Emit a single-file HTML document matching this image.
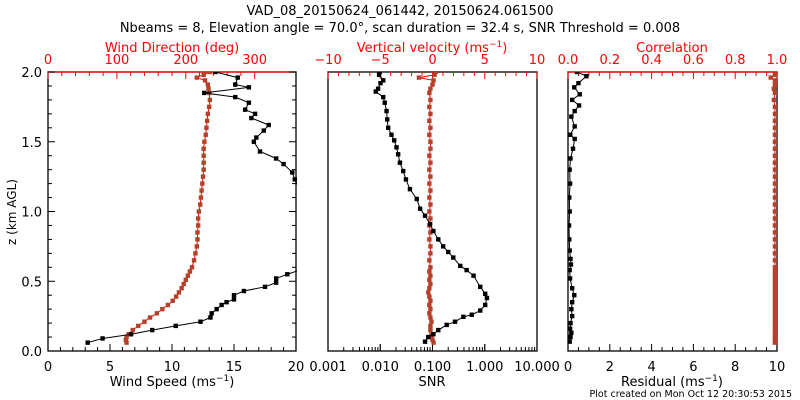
<!DOCTYPE html>
<html><head><meta charset="utf-8">
<style>
html,body{margin:0;padding:0;background:#fff;width:800px;height:400px;overflow:hidden}
svg{display:block;font-family:"DejaVu Sans","Liberation Sans",sans-serif}
</style></head>
<body>
<svg id="chart" width="800" height="400" viewBox="0 0 800 400">
<text x="400" y="15" font-size="13" text-anchor="middle">VAD_08_20150624_061442, 20150624.061500</text>
<text x="400" y="32" font-size="13" text-anchor="middle">Nbeams = 8, Elevation angle = 70.0°, scan duration = 32.4 s, SNR Threshold = 0.008</text>
<text transform="translate(16,212) rotate(-90)" font-size="12" text-anchor="middle">z (km AGL)</text>
<text x="792" y="397" font-size="9.5" text-anchor="end">Plot created on Mon Oct 12 20:30:53 2015</text>
<g id="g"></g>
</svg>
<script>
// ---- data ----
const speedZ = [0.06,0.09,0.12,0.15,0.18,0.21,0.24,0.27,0.30,0.33,0.35,0.37,0.40,0.43,0.46,0.49,0.52,0.55,0.58,1.16,1.23,1.28,1.34,1.38,1.43,1.50,1.53,1.58,1.62,1.67,1.70,1.73,1.78,1.82,1.85,1.89,1.91,1.96,2.0];
const speedVals = [3.2,4.4,6.7,8.4,10.3,12.3,13.1,13.2,13.6,14.0,14.4,15.0,15.0,15.8,17.5,18.4,18.4,19.3,20.3,20.3,19.9,19.7,19.0,18.4,17.1,16.6,16.8,17.4,17.8,16.4,16.7,15.9,16.2,15.1,12.6,16.2,15.1,15.3,13.5];
const dirZ = [0.06,0.08,0.10,0.12,0.15,0.18,0.21,0.24,0.27,0.30,0.33,0.36,0.39,0.42,0.45,0.48,0.51,0.54,0.57,0.60,0.65,0.70,0.75,0.80,0.85,0.90,0.95,1.00,1.05,1.10,1.15,1.20,1.25,1.30,1.35,1.40,1.45,1.50,1.55,1.60,1.65,1.70,1.75,1.80,1.85,1.88,1.91,1.94,1.96,1.98,2.0];
const dirVals = [114,113,114,117,123,131,140,148,158,166,174,181,186,190,194,197,200,203,206,209,212,214,216,217,217,218,218,219,221,222,223,224,225,226,226,226,226,227,229,230,231,232,234,235,234,233,232,228,216,226,235];
const snrZ = [0.067,0.10,0.12,0.15,0.187,0.21,0.245,0.26,0.29,0.33,0.38,0.41,0.46,0.54,0.58,0.61,0.67,0.71,0.75,0.80,0.86,0.91,0.97,1.02,1.09,1.16,1.23,1.29,1.35,1.41,1.46,1.51,1.55,1.60,1.66,1.72,1.78,1.82,1.86,1.88,1.92,1.94,1.98,2.0];
const snrVals = [0.072,0.083,0.104,0.129,0.187,0.27,0.39,0.565,0.82,1.02,1.10,1.02,0.82,0.61,0.45,0.34,0.25,0.20,0.16,0.129,0.104,0.090,0.072,0.058,0.050,0.037,0.031,0.0275,0.0238,0.022,0.0205,0.0185,0.0164,0.0142,0.0136,0.0132,0.0122,0.0114,0.0082,0.0091,0.0101,0.0114,0.0095,0.0098];
const wVals = [0.1,0.0,-0.1,-0.1,-0.2,-0.2,-0.1,-0.2,-0.3,-0.2,-0.3,-0.2,-0.3,-0.4,-0.3,-0.2,-0.3,-0.2,-0.3,-0.2,-0.3,-0.2,-0.2,-0.3,-0.2,-0.3,-0.2,-0.3,-0.2,-0.3,-0.2,-0.3,-0.2,-0.3,-0.2,-0.3,-0.2,-0.2,-0.3,-0.2,-0.3,-0.2,-0.3,-0.2,-0.3,-0.2,0.0,0.1,-1.3,0.2,0.3];
const resZ = [0.067,0.10,0.13,0.16,0.20,0.25,0.30,0.35,0.40,0.45,0.52,0.58,0.62,0.66,0.72,0.80,0.90,1.00,1.10,1.20,1.30,1.38,1.45,1.52,1.55,1.61,1.68,1.72,1.76,1.80,1.84,1.89,1.92,1.97,2.0];
const resVals = [0.08,0.12,0.16,0.10,0.12,0.20,0.16,0.20,0.30,0.20,0.10,0.08,0.14,0.12,0.08,0.06,0.05,0.08,0.06,0.10,0.08,0.12,0.24,0.32,0.11,0.32,0.16,0.32,0.53,0.20,0.56,0.30,0.50,0.88,0.43];
const corrVals = [0.99,0.99,0.99,0.99,0.99,0.99,0.99,0.99,0.99,0.99,0.99,0.99,0.99,0.99,0.99,0.99,0.99,0.99,0.99,0.99,0.99,0.99,0.99,0.99,0.99,0.99,0.99,0.99,0.99,0.99,0.99,0.99,0.99,0.99,0.99,0.99,0.99,0.99,0.99,0.99,0.99,0.99,0.99,0.985,0.99,0.985,0.99,0.99,0.97,0.99,0.995];
const yTicks = ["0.0","0.5","1.0","1.5","2.0"];
const dirTicks = ["0","100","200","300"];
const speedTicks = ["0","5","10","15","20"];
const wTicks = ["−10","−5","0","5","10"];
const snrTicks = ["0.001","0.010","0.100","1.000","10.000"];
const corrTicks = ["0.0","0.2","0.4","0.6","0.8","1.0"];
const resTicks = ["0","2","4","6","8","10"];

const NS="http://www.w3.org/2000/svg";
const G=document.getElementById('g');
const TOP=72,BOT=351;
const yS=z=>BOT-(z/2)*(BOT-TOP);
function el(tag,attrs,parent){const e=document.createElementNS(NS,tag);for(const k in attrs)e.setAttribute(k,attrs[k]);(parent||G).appendChild(e);return e;}
const P=[{x0:48,x1:296},{x0:328,x1:537},{x0:568,x1:777}];
const RED="#ff0000",BR="#b5412b";
function lin(a,b,p){return v=>p.x0+(v-a)/(b-a)*(p.x1-p.x0);}
const xSpeed=lin(0,20,P[0]),xDir=lin(0,360,P[0]);
const xW=lin(-10,10,P[1]);
const xSnr=v=>P[1].x0+(Math.log10(v)+3)/4*(P[1].x1-P[1].x0);
const xRes=lin(0,10,P[2]),xCorr=lin(0,1,P[2]);

// frames
P.forEach((p,i)=>{
  const r=el('rect',{x:p.x0,y:TOP,width:p.x1-p.x0,height:BOT-TOP,fill:'none',stroke:'#000','stroke-width':1.3});
  
  
});
el('line',{x1:48,x2:296,y1:TOP,y2:TOP,stroke:RED,'stroke-width':1.3});
el('line',{x1:568,x2:777,y1:TOP,y2:TOP,stroke:RED,'stroke-width':1.3});

// y ticks panel1
for(let k=0;k<=20;k++){const z=k/10,y=yS(z),L=k%5==0?7:4;
  el('line',{x1:48,x2:48+L,y1:y,y2:y,stroke:'#000'});el('line',{x1:296,x2:296-L,y1:y,y2:y,stroke:'#000'});}
yTicks.forEach((t,i)=>{const tx=el('text',{x:42,y:yS(i*0.5)+5,'font-size':13,'text-anchor':'end'});tx.textContent=t;
  
  });

function axis(p,ticks,major,minorPerMajor,pos,color,fnPos){ // pos 'top'|'bottom'
  const n=(ticks.length-1)*minorPerMajor;
  for(let k=0;k<=n;k++){const x=fnPos(k/minorPerMajor);const L=k%minorPerMajor==0?7:4;
    if(pos=='top')el('line',{x1:x,x2:x,y1:TOP,y2:TOP+L,stroke:color});else el('line',{x1:x,x2:x,y1:BOT,y2:BOT-L,stroke:color});}
  ticks.forEach((t,i)=>{const tx=el('text',{x:fnPos(i),y:pos=='top'?64:371,'font-size':13,'text-anchor':'middle',fill:color});tx.textContent=t;
    
    });
}
axis(P[0],dirTicks,100,5,'top',RED,i=>xDir(i*100));
axis(P[0],speedTicks,5,5,'bottom','#000',i=>xSpeed(i*5));
axis(P[1],wTicks,5,5,'top',RED,i=>xW(-10+i*5));
ticksLog();
function ticksLog(){
  for(let d=-3;d<1;d++)for(let m=1;m<=10;m++){const x=xSnr(m*Math.pow(10,d));const L=(m==1||m==10)?7:4;el('line',{x1:x,x2:x,y1:BOT,y2:BOT-L,stroke:'#000'});}
  snrTicks.forEach((t,i)=>{const tx=el('text',{x:xSnr(Math.pow(10,i-3)),y:371,'font-size':13,'text-anchor':'middle'});tx.textContent=t;
    
    });
}
axis(P[2],corrTicks,0.2,4,'top',RED,i=>xCorr(i*0.2));
axis(P[2],resTicks,2,4,'bottom','#000',i=>xRes(i*2));

function title(x,y,txt,color,name,sup){const t=el('text',{x:x,y:y,'font-size':13,'text-anchor':'middle',fill:color});
  
  
  if(sup){t.appendChild(document.createTextNode(txt+' (ms'));const s=el('tspan',{dy:-5,'font-size':9},t);s.textContent='−1';const e=el('tspan',{dy:5},t);e.textContent=')';}
  else t.textContent=txt;}
title(172,52,'Wind Direction (deg)',RED,'wind-direction-axis-title');
title(432,52,'Vertical velocity',RED,'vertical-velocity-axis-title',true);
title(672,52,'Correlation',RED,'correlation-axis-title');
title(172,386,'Wind Speed',"#000",'wind-speed-axis-title',true);
title(432,386,'SNR',"#000",'snr-axis-title');
title(672,386,'Residual',"#000",'residual-axis-title',true);

function series(xs,zs,fx,lineC,markC,name){
  const pts=xs.map((v,i)=>[fx(v),yS(zs[i])]);
  const cp=el('clipPath',{id:'c'+name});el('rect',{x:P.find(p=>pts[0][0]>=p.x0-20&&pts[0][0]<=p.x1+20).x0,y:TOP,width:260,height:BOT-TOP},cp);
  const g=el('g',{'clip-path':'url(#c'+name+')'});
  const pl=el('polyline',{points:pts.map(p=>p.join(',')).join(' '),fill:'none',stroke:lineC,'stroke-width':1},g);
  
  
  pts.forEach(p=>{const r=el('rect',{x:p[0]-2.2,y:p[1]-2.2,width:4.4,height:4.4,fill:markC},g);
    
    });
}
// clip panels to their frames
function clipFix(){}
series(dirVals,dirZ,xDir,RED,BR,'wind-direction');
series(speedVals,speedZ,xSpeed,'#000','#000','wind-speed');
series(wVals,dirZ,xW,RED,BR,'vertical-velocity');
series(snrVals,snrZ,xSnr,'#000','#000','snr');
series(corrVals,dirZ,xCorr,RED,BR,'correlation');
series(resVals,resZ,xRes,'#000','#000','residual');
// fix clip widths to panel widths
document.querySelectorAll('clipPath rect').forEach(r=>{const x=+r.getAttribute('x');const p=P.find(q=>q.x0==x);r.setAttribute('width',p.x1-p.x0+1);});
</script>
</body></html>
